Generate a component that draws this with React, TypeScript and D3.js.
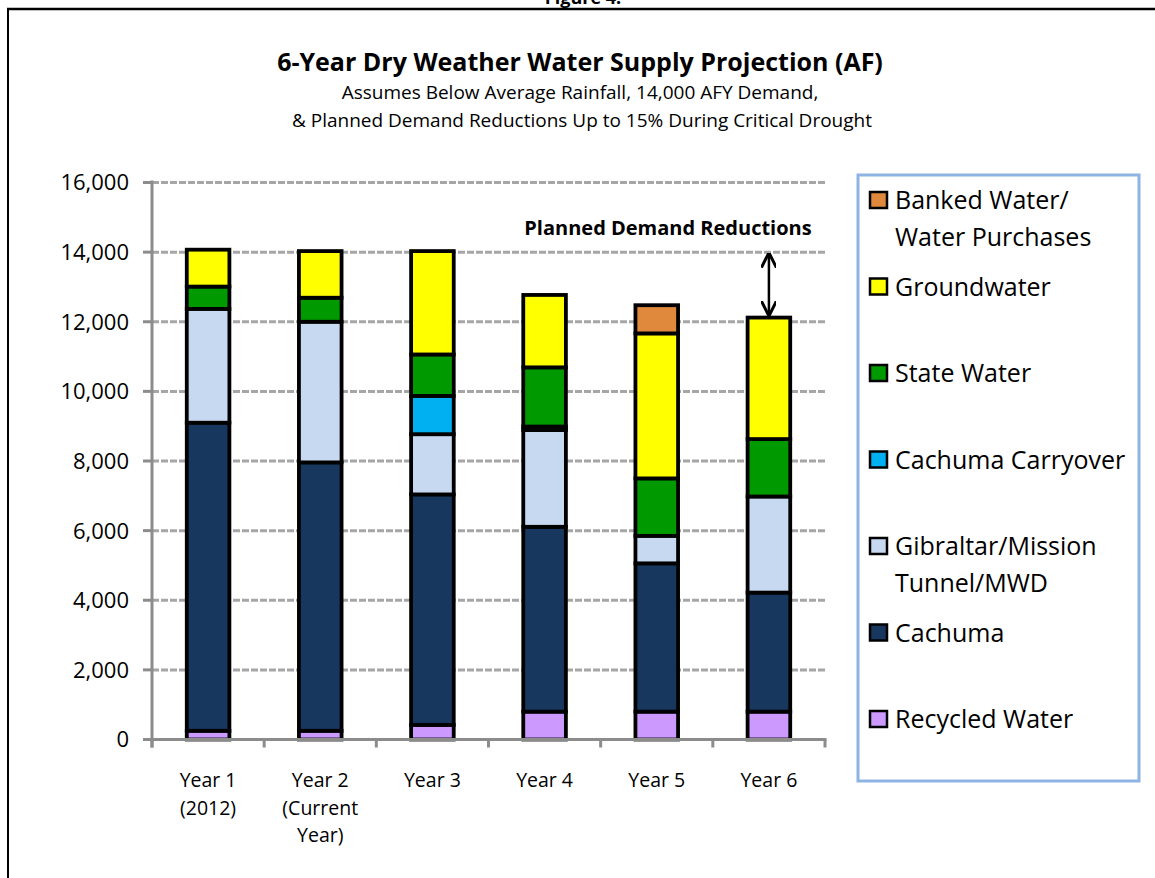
import * as d3 from "d3"
import React from "react"

// categories and series (AF)
const years = ["Year 1|(2012)", "Year 2|(Current|Year)", "Year 3", "Year 4", "Year 5", "Year 6"]
const seriesNames = [
  "Recycled Water",
  "Cachuma",
  "Gibraltar/Mission|Tunnel/MWD",
  "Cachuma Carryover",
  "State Water",
  "Groundwater",
  "Banked Water/|Water Purchases",
]
const seriesColors = ["#CC99FF", "#17375E", "#C6D9F1", "#00B0F0", "#009900", "#FFFF00", "#E0883C"]

const recycled = [250, 250, 420, 800, 800, 800]
const cachuma = [8850, 7710, 6620, 5310, 4260, 3420]
const gibraltar = [3270, 4040, 1730, 2780, 790, 2760]
const carryover = [0, 0, 1100, 100, 0, 0]
const stateWater = [640, 690, 1190, 1700, 1650, 1650]
const groundwater = [1060, 1340, 2970, 2080, 4165, 3490]
const banked = [0, 0, 0, 0, 810, 0]

const yTicks = [0, 2000, 4000, 6000, 8000, 10000, 12000, 14000, 16000]
const demand = 14000

const font = "'Open Sans', sans-serif"

export default function App() {
  const W = 1155
  const H = 878
  const x0 = 152
  const x1 = 825
  const yBottom = 739.5
  const yTop = 182.5

  const x = d3.scaleBand<string>().domain(years).range([x0, x1]).padding(0)
  const y = d3.scaleLinear().domain([0, 16000]).range([yBottom, yTop])
  const barW = x.bandwidth() * 0.38

  const allSeries = [recycled, cachuma, gibraltar, carryover, stateWater, groundwater, banked]
  const rows = years.map((yr, i) => {
    const r: Record<string, number | string> = { year: yr }
    seriesNames.forEach((s, k) => (r[s] = allSeries[k][i]))
    return r
  })
  const stacked = d3.stack<any>().keys(seriesNames)(rows)
  const totals = years.map((_, i) => d3.sum(allSeries, (s) => s[i]))

  const fmt = d3.format(",")

  // legend, listed top-down in reverse stack order
  const legendOrder = seriesNames.map((_, k) => k).reverse()
  const ly = d3.scalePoint<number>().domain(legendOrder).range([200, 719])

  const lastYear = years[years.length - 1]
  const arrowX = (x(lastYear) ?? 0) + x.bandwidth() / 2
  const arrowTop = y(demand)
  const arrowBot = y(totals[totals.length - 1])

  return (
    <svg width={W} height={H} style={{ position: "absolute", left: 0, top: 0, background: "#fff" }}>
      <defs>
        <marker id="ah" viewBox="0 0 10 10" refX="9" refY="5" markerWidth="6" markerHeight="6" orient="auto-start-reverse">
          <path d="M0,0 L10,5 L0,10" fill="none" stroke="#000" strokeWidth={2} />
        </marker>
      </defs>

      {/* page frame */}
      <text x={583} y={4} textAnchor="middle" fontFamily={font} fontWeight="bold" fontSize={18}>Figure 4.</text>
      <line x1={7} x2={W} y1={9} y2={9} stroke="#000" strokeWidth={2.5} />
      <line x1={8} x2={8} y1={9} y2={H} stroke="#000" strokeWidth={2} />

      {/* titles */}
      <text x={580} y={71} textAnchor="middle" fontFamily={font} fontWeight="bold" fontSize={25}>
        6-Year Dry Weather Water Supply Projection (AF)
      </text>
      <text x={580} y={99} textAnchor="middle" fontFamily={font} fontSize={19}>
        Assumes Below Average Rainfall, 14,000 AFY Demand,
      </text>
      <text x={582} y={127} textAnchor="middle" fontFamily={font} fontSize={19}>
        &amp; Planned Demand Reductions Up to 15% During Critical Drought
      </text>

      {/* gridlines */}
      {yTicks.filter((t) => t > 0).map((t) => (
        <g key={t}>
          <line x1={x0} x2={x1} y1={y(t)} y2={y(t)} stroke="#A6A6A6" strokeWidth={3} strokeDasharray="7 2" />
          <line x1={x0 - 9} x2={x0} y1={y(t)} y2={y(t)} stroke="#8C8C8C" strokeWidth={3} />
        </g>
      ))}

      {/* y axis */}
      <line x1={x0} x2={x0} y1={yTop - 2} y2={yBottom + 8} stroke="#8C8C8C" strokeWidth={3} />
      <line x1={x0 - 9} x2={x0} y1={yBottom} y2={yBottom} stroke="#8C8C8C" strokeWidth={3} />
      {yTicks.map((t) => (
        <text key={t} x={129} y={y(t)} dy="0.36em" textAnchor="end" fontFamily={font} fontSize={22}>
          {fmt(t)}
        </text>
      ))}

      {/* bars */}
      {stacked.map((layer, k) => (
        <g key={layer.key}>
          {layer.map((d, i) =>
            d[1] - d[0] > 0 ? (
              <rect
                key={i}
                x={(x(years[i]) ?? 0) + (x.bandwidth() - barW) / 2}
                y={y(d[1])}
                width={barW}
                height={y(d[0]) - y(d[1])}
                fill={seriesColors[k]}
                stroke="#000"
                strokeWidth={3.8}
              />
            ) : null
          )}
        </g>
      ))}

      {/* x axis */}
      <line x1={x0} x2={x1 + 1.5} y1={yBottom} y2={yBottom} stroke="#8C8C8C" strokeWidth={3} />
      {[...years.map((c) => x(c) ?? 0), x1].map((px, i) => (
        <line key={i} x1={px} x2={px} y1={yBottom} y2={yBottom + 8} stroke="#8C8C8C" strokeWidth={3} />
      ))}
      {years.map((c) => (
        <text key={c} x={(x(c) ?? 0) + x.bandwidth() / 2} y={787} textAnchor="middle" fontFamily={font} fontSize={19.5}>
          {c.split("|").map((ln, j) => (
            <tspan key={j} x={(x(c) ?? 0) + x.bandwidth() / 2} dy={j === 0 ? 0 : 27.5}>
              {ln}
            </tspan>
          ))}
        </text>
      ))}

      {/* planned demand reductions */}
      <text x={668} y={235} textAnchor="middle" fontFamily={font} fontWeight="bold" fontSize={20}>
        Planned Demand Reductions
      </text>
      <line
        x1={arrowX}
        x2={arrowX}
        y1={arrowTop + 2}
        y2={arrowBot - 3}
        stroke="#000"
        strokeWidth={2.5}
        markerStart="url(#ah)"
        markerEnd="url(#ah)"
      />

      {/* legend */}
      <rect x={858} y={175} width={281} height={606} fill="#fff" stroke="#8EB4E3" strokeWidth={3} />
      {legendOrder.map((k) => {
        const yy = ly(k) ?? 0
        return (
          <g key={k}>
            <rect x={870} y={yy - 8} width={17} height={16} fill={seriesColors[k]} stroke="#000" strokeWidth={2.5} />
            <text x={895} y={yy} fontFamily={font} fontSize={25}>
              {seriesNames[k].split("|").map((ln, j) => (
                <tspan key={j} x={895} dy={j === 0 ? "0.36em" : 37}>
                  {ln}
                </tspan>
              ))}
            </text>
          </g>
        )
      })}
    </svg>
  )
}
